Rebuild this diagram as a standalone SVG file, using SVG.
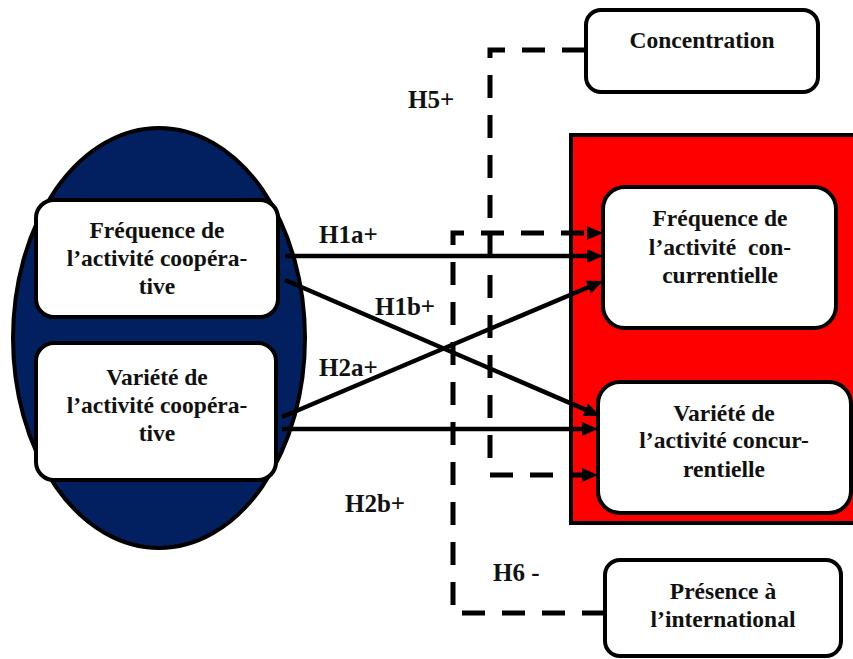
<svg xmlns="http://www.w3.org/2000/svg" width="853" height="659" viewBox="0 0 853 659">
<defs>
<style>
.box{fill:#fff;stroke:#000;stroke-width:4}
.t{font-family:"Liberation Serif","Times New Roman",serif;font-weight:bold;font-size:23.5px;fill:#111;text-anchor:middle}
.lab{font-family:"Liberation Serif","Times New Roman",serif;font-weight:bold;font-size:25px;fill:#111}
.solid{fill:none;stroke:#000;stroke-width:4.5}
.dash{fill:none;stroke:#000;stroke-width:5;stroke-dasharray:23 17}
</style>
<marker id="ah" markerUnits="userSpaceOnUse" markerWidth="18" markerHeight="15" refX="2" refY="7" orient="auto">
<path d="M0,0 L16,7 L0,14 z" fill="#000"/>
</marker>
</defs>
<rect width="853" height="659" fill="#fff"/>

<g id="cooperation-group">
<ellipse cx="159" cy="338" rx="146" ry="210" fill="#022060" stroke="#000" stroke-width="4"/>
</g>
<g id="competition-group">
<rect x="571" y="135" width="292" height="388" fill="#ff0000" stroke="#000" stroke-width="4"/>
</g>

<g id="connectors">
<path class="dash" d="M605,613 H453 V233 H589" marker-end="url(#ah)"/>
<path class="dash" d="M585,50 H490 V475 H584" marker-end="url(#ah)"/>
<line class="solid" x1="285" y1="256" x2="589" y2="256" marker-end="url(#ah)"/>
<line class="solid" x1="285" y1="280" x2="587.1" y2="410.4" marker-end="url(#ah)"/>
<line class="solid" x1="282" y1="417" x2="590.1" y2="286.5" marker-end="url(#ah)"/>
<line class="solid" x1="282" y1="429" x2="584" y2="429" marker-end="url(#ah)"/>
<text class="lab" x="408" y="108">H5+</text>
<text class="lab" x="319" y="243">H1a+</text>
<text class="lab" x="375" y="315">H1b+</text>
<text class="lab" x="319" y="376">H2a+</text>
<text class="lab" x="345" y="512">H2b+</text>
<text class="lab" x="493" y="581">H6 -</text>
</g>

<g id="freq-coop">
<rect class="box" x="36" y="200" width="242" height="117" rx="18"/>
<text class="t" x="157" y="238">Fréquence de</text>
<text class="t" x="157" y="266">l’activité coopéra-</text>
<text class="t" x="157" y="294">tive</text>
</g>
<g id="var-coop">
<rect class="box" x="36" y="343" width="240" height="137" rx="18"/>
<text class="t" x="157" y="385">Variété de</text>
<text class="t" x="157" y="413">l’activité coopéra-</text>
<text class="t" x="157" y="441">tive</text>
</g>
<g id="freq-conc">
<rect class="box" x="603" y="187" width="233" height="141" rx="22"/>
<text class="t" x="720" y="226">Fréquence de</text>
<text class="t" x="720" y="255" style="white-space:pre">l’activité  con-</text>
<text class="t" x="720" y="283">currentielle</text>
</g>
<g id="var-conc">
<rect class="box" x="598" y="382" width="253" height="131" rx="22"/>
<text class="t" x="724" y="421">Variété de</text>
<text class="t" x="724" y="448">l’activité concur-</text>
<text class="t" x="724" y="477">rentielle</text>
</g>
<g id="concentration">
<rect class="box" x="586" y="10" width="232" height="82" rx="15"/>
<text class="t" x="702" y="48">Concentration</text>
</g>
<g id="international">
<rect class="box" x="605" y="560" width="236" height="96" rx="15"/>
<text class="t" x="723" y="599">Présence à</text>
<text class="t" x="723" y="627">l’international</text>
</g>
</svg>
